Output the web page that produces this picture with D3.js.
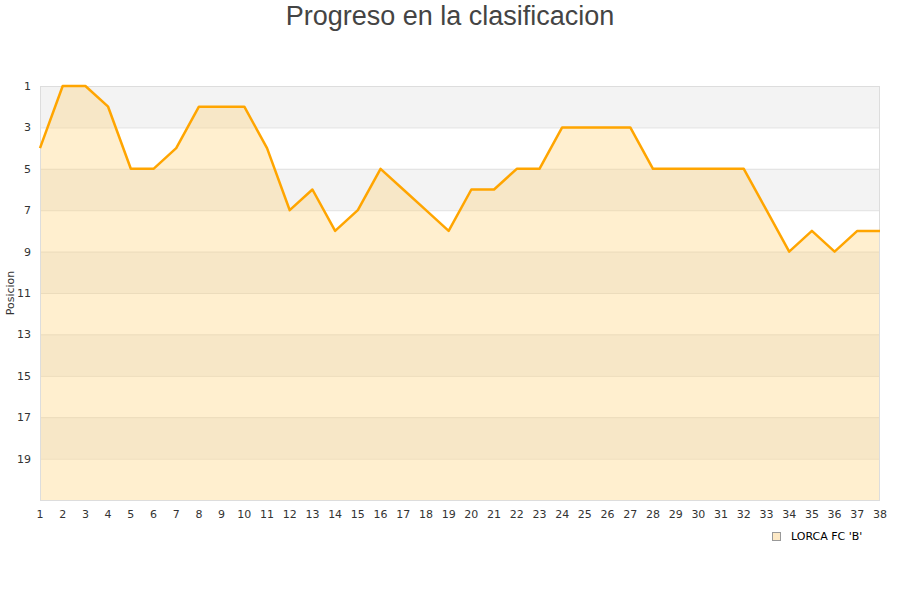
<!DOCTYPE html>
<html><head><meta charset="utf-8">
<script src="https://cdn.jsdelivr.net/npm/d3@7"></script>
<style>body{margin:0;background:#fff;}svg{display:block;}</style>
</head><body>
<script>
const title = "Progreso en la clasificacion";
const yLabel = "Posicion";
const seriesName = "LORCA FC 'B'";
const jornadas = d3.range(1, 39);
const positions = [4,1,1,2,5,5,4,2,2,2,4,7,6,8,7,5,6,7,8,6,6,5,5,3,3,3,3,5,5,5,5,5,7,9,8,9,8,8];
const yTicks = [1,3,5,7,9,11,13,15,17,19];
const bands = [[1,3],[5,7],[9,11],[13,15],[17,19]];

const W = 900, H = 600;
const m = {left: 40, right: 20, top: 86, bottom: 100};
const svg = d3.select("body").append("svg").attr("width", W).attr("height", H);

const x = d3.scaleLinear().domain([1, 38]).range([m.left, W - m.right]);
const y = d3.scaleLinear().domain([1, 21]).range([m.top, H - m.bottom]);

// bands
svg.selectAll("rect.band").data(bands).enter().append("rect")
  .attr("x", x(1)).attr("width", x(38) - x(1))
  .attr("y", d => y(d[0])).attr("height", d => y(d[1]) - y(d[0]))
  .attr("fill", "#f3f3f3");

// gridlines
svg.selectAll("line.grid").data(d3.range(3, 21, 2)).enter().append("line")
  .attr("x1", x(1)).attr("x2", x(38))
  .attr("y1", d => y(d) + 0.5).attr("y2", d => y(d) + 0.5)
  .attr("stroke", "#e0e0e0").attr("stroke-width", 1);

// area
const data = jornadas.map((j, i) => ({j, p: positions[i]}));
svg.append("path").datum(data)
  .attr("d", d3.area().x(d => x(d.j)).y0(y(21)).y1(d => y(d.p)))
  .attr("fill", "#ffd580").attr("fill-opacity", 0.38);

// border
svg.append("rect").attr("x", x(1) + 0.5).attr("y", y(1) + 0.5)
  .attr("width", x(38) - x(1) - 1).attr("height", y(21) - y(1))
  .attr("fill", "none").attr("stroke", "#dddddd");

// line
svg.append("path").datum(data)
  .attr("d", d3.line().x(d => x(d.j)).y(d => y(d.p)))
  .attr("fill", "none").attr("stroke", "#ffa500").attr("stroke-width", 2.5)
  .attr("stroke-linejoin", "round");

// y axis labels
svg.append("g").selectAll("text").data(yTicks).enter().append("text")
  .attr("x", 31).attr("y", d => y(d) + 4).attr("text-anchor", "end")
  .attr("font-family", "DejaVu Sans, sans-serif").attr("font-size", 11).attr("fill", "#333")
  .text(d => d);

// x axis labels
svg.append("g").selectAll("text").data(jornadas).enter().append("text")
  .attr("x", d => x(d)).attr("y", 518).attr("text-anchor", "middle")
  .attr("font-family", "DejaVu Sans, sans-serif").attr("font-size", 11).attr("fill", "#333")
  .text(d => d);

// y label
svg.append("text").attr("transform", `translate(14,${(y(1)+y(21))/2}) rotate(-90)`)
  .attr("text-anchor", "middle").attr("font-family", "DejaVu Sans, sans-serif")
  .attr("font-size", 11).attr("fill", "#333").text(yLabel);

// title
svg.append("text").attr("x", W/2).attr("y", 25).attr("text-anchor", "middle")
  .attr("font-family", "Liberation Sans, Arial, sans-serif").attr("font-size", 27)
  .attr("fill", "#444").text(title);

// legend
svg.append("rect").attr("x", 772.5).attr("y", 532.5).attr("width", 8).attr("height", 8)
  .attr("fill", "#fde9c6").attr("stroke", "#999");
svg.append("text").attr("x", 791).attr("y", 540)
  .attr("font-family", "DejaVu Sans, sans-serif").attr("font-size", 11).attr("fill", "#000")
  .text(seriesName);
</script>
</body></html>
